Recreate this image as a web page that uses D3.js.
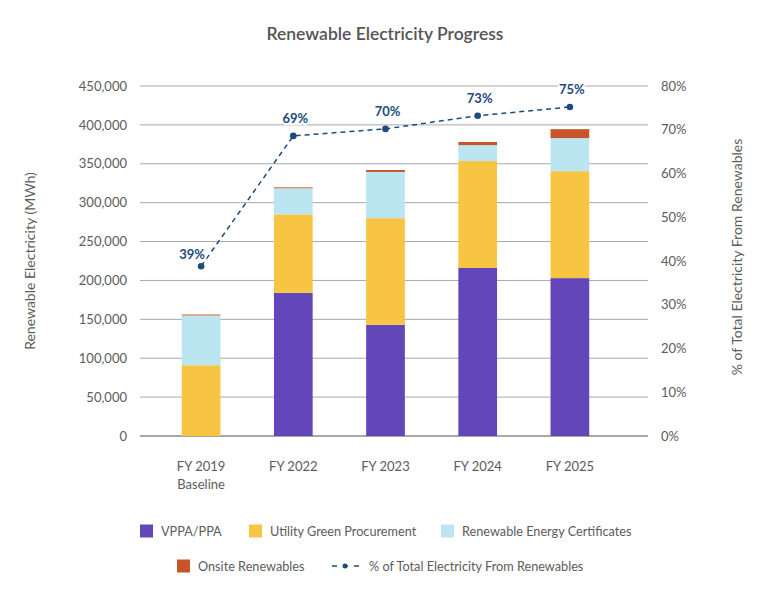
<!DOCTYPE html>
<html>
<head>
<meta charset="utf-8">
<script src="https://cdn.jsdelivr.net/npm/d3@7"></script>
<style>
    body { margin: 0; background: #fff; }
    svg { font-family: Lato, "Open Sans", sans-serif; }
</style>
</head>
<body>
<svg id="chart" width="776" height="590"></svg>
<script>
// data (MWh)
const years = ['FY 2019|Baseline', 'FY 2022', 'FY 2023', 'FY 2024', 'FY 2025']
const vppa = [0, 184000, 143000, 216000, 203000]
const utility = [91000, 101000, 137000, 137500, 137500]
const recs = [64000, 33500, 59500, 20500, 42500]
const onsite = [1200, 1200, 2500, 4000, 11500]
const pctRenewable = [38.8, 68.6, 70.2, 73.2, 75.2]
const leftTicks = [0, 50000, 100000, 150000, 200000, 250000, 300000, 350000, 400000, 450000]
const rightTicks = [0, 10, 20, 30, 40, 50, 60, 70, 80]

const seriesNames = ['VPPA/PPA', 'Utility Green Procurement', 'Renewable Energy Certificates', 'Onsite Renewables']
const colors = ['#6246ba', '#f7c542', '#bce5f2', '#c8552a']
const lineColor = '#1c4b7e'
const textColor = '#5c5c5c'

const svg = d3.select('#chart')

const plot = { left: 140, right: 648, top: 86, bottom: 436 }

const x = d3.scaleBand()
    .domain(years)
    .range([155, 616])
    .paddingInner(0.58)
    .paddingOuter(0.29)

const y = d3.scaleLinear().domain([0, 450000]).range([plot.bottom, plot.top])
const y2 = d3.scaleLinear().domain([0, 80]).range([plot.bottom, plot.top])

// 表格 -> stack
const rows = years.map((yr, i) => ({
    year: yr, s0: vppa[i], s1: utility[i], s2: recs[i], s3: onsite[i],
}))
const stacked = d3.stack().keys(['s0', 's1', 's2', 's3'])(rows)

// title
svg.append('text')
    .attr('x', 385)
    .attr('y', 40)
    .attr('text-anchor', 'middle')
    .attr('font-size', 17.5)
    .attr('font-weight', 600)
    .attr('fill', '#555')
    .text('Renewable Electricity Progress')

// gridlines
svg.append('g')
    .selectAll('line')
    .data(leftTicks)
    .join('line')
    .attr('x1', plot.left)
    .attr('x2', plot.right)
    .attr('y1', d => y(d))
    .attr('y2', d => y(d))
    .attr('stroke', d => (d === 0 ? '#8a8a8a' : '#a8a8a8'))
    .attr('stroke-width', d => (d === 0 ? 1.5 : 1))

// left axis
const leftAxis = svg.append('g')
    .attr('transform', 'translate(127,0)')
    .call(d3.axisLeft(y).tickValues(leftTicks).tickSize(0).tickPadding(0).tickFormat(d3.format(',')))
leftAxis.select('.domain').remove()
leftAxis.selectAll('text').attr('font-size', 13).attr('fill', textColor).attr('font-family', 'Lato, sans-serif')

// right axis
const rightAxis = svg.append('g')
    .attr('transform', 'translate(661,0)')
    .call(d3.axisRight(y2).tickValues(rightTicks).tickSize(0).tickPadding(0).tickFormat(d => `${d}%`))
rightAxis.select('.domain').remove()
rightAxis.selectAll('text').attr('font-size', 13).attr('fill', textColor).attr('font-family', 'Lato, sans-serif')

// axis titles
svg.append('text')
    .attr('transform', 'translate(35,261) rotate(-90)')
    .attr('text-anchor', 'middle')
    .attr('font-size', 14)
    .attr('fill', textColor)
    .text('Renewable Electricity (MWh)')

svg.append('text')
    .attr('transform', 'translate(742,257) rotate(-90)')
    .attr('text-anchor', 'middle')
    .attr('font-size', 14)
    .attr('fill', textColor)
    .text('% of Total Electricity From Renewables')

// bars
svg.append('g')
    .selectAll('g')
    .data(stacked)
    .join('g')
    .attr('fill', (d, i) => colors[i])
    .selectAll('rect')
    .data(d => d)
    .join('rect')
    .attr('x', d => x(d.data.year))
    .attr('width', x.bandwidth())
    .attr('y', d => y(d[1]))
    .attr('height', d => y(d[0]) - y(d[1]))

// x labels
const xLabels = svg.append('g')
    .selectAll('text')
    .data(years)
    .join('text')
    .attr('x', d => x(d) + x.bandwidth() / 2)
    .attr('y', 471)
    .attr('text-anchor', 'middle')
    .attr('font-size', 13)
    .attr('fill', textColor)
xLabels.each(function (d) {
    d.split('|').forEach((part, k) => {
        d3.select(this).append('tspan')
            .attr('x', x(d) + x.bandwidth() / 2)
            .attr('dy', k === 0 ? 0 : 18)
            .text(part)
    })
})

// 百分比折线
const linePoints = years.map((yr, i) => [x(yr) + x.bandwidth() / 2, y2(pctRenewable[i])])

svg.append('path')
    .attr('d', d3.line()(linePoints))
    .attr('fill', 'none')
    .attr('stroke', lineColor)
    .attr('stroke-width', 1.5)
    .attr('stroke-dasharray', '5,4')

svg.append('g')
    .selectAll('circle')
    .data(linePoints)
    .join('circle')
    .attr('cx', d => d[0])
    .attr('cy', d => d[1])
    .attr('r', 3.3)
    .attr('fill', lineColor)

// 第一个标签靠近左上方
svg.append('g')
    .selectAll('text')
    .data(linePoints)
    .join('text')
    .attr('x', (d, i) => d[0] + (i === 0 ? -9 : 2))
    .attr('y', (d, i) => d[1] - (i === 0 ? 7 : 13))
    .attr('text-anchor', 'middle')
    .attr('font-size', 13)
    .attr('font-weight', 700)
    .attr('fill', lineColor)
    .attr('stroke', '#fff')
    .attr('stroke-width', 4)
    .attr('paint-order', 'stroke')
    .text((d, i) => `${Math.round(pctRenewable[i])}%`)

// legend
const legendItems = [
    { x: 140, y: 531, idx: 0 },
    { x: 249, y: 531, idx: 1 },
    { x: 441, y: 531, idx: 2 },
    { x: 177, y: 566, idx: 3 },
]
const legend = svg.append('g')
legendItems.forEach((item) => {
    legend.append('rect')
        .attr('x', item.x)
        .attr('y', item.y - 6.5)
        .attr('width', 13)
        .attr('height', 13)
        .attr('fill', colors[item.idx])
    legend.append('text')
        .attr('x', item.x + 21)
        .attr('y', item.y + 4.5)
        .attr('font-size', 12.7)
        .attr('fill', textColor)
        .text(seriesNames[item.idx])
})
legend.append('line')
    .attr('x1', 332).attr('x2', 360)
    .attr('y1', 566).attr('y2', 566)
    .attr('stroke', lineColor)
    .attr('stroke-width', 1.5)
    .attr('stroke-dasharray', '5,6')
legend.append('circle')
    .attr('cx', 345).attr('cy', 566).attr('r', 2.5)
    .attr('fill', lineColor)
legend.append('text')
    .attr('x', 369)
    .attr('y', 570.5)
    .attr('font-size', 12.7)
    .attr('fill', textColor)
    .text('% of Total Electricity From Renewables')
</script>
</body>
</html>
